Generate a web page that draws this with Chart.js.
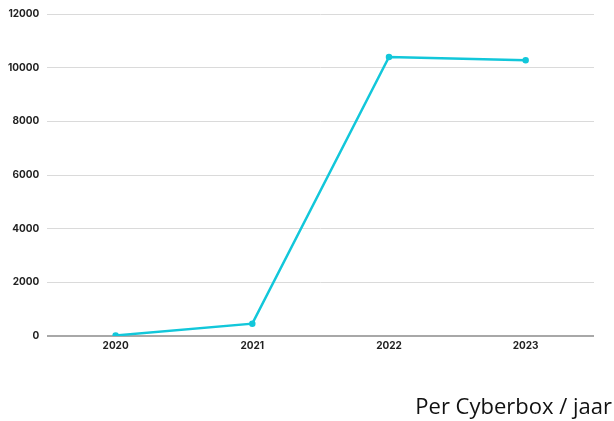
<!DOCTYPE html>
<html>
<head>
<meta charset="utf-8">
<script src="https://cdn.jsdelivr.net/npm/chart.js@4/dist/chart.umd.min.js"></script>
<style>
  html, body { margin: 0; padding: 0; background: #fff; }
  #wrap { position: relative; width: 614px; height: 421px; }
  #caption {
    position: absolute; right: 2px; top: 390px;
    font-family: 'Open Sans', sans-serif; font-size: 22px; color: #111;
    line-height: 30px; white-space: nowrap;
  }
</style>
</head>
<body>
<div id="wrap">
  <canvas id="cyberChart"></canvas>
  <div id="caption">Per Cyberbox / jaar</div>
</div>
<script>
const years = ['2020', '2021', '2022', '2023'];
const perBox = [20, 460, 10400, 10280];
const yTicks = [0, 2000, 4000, 6000, 8000, 10000, 12000];

const lineColor = '#12c7da';
const tickFont = { family: 'Inter', size: 10, weight: 'bold' };

const ctx = document.getElementById('cyberChart').getContext('2d');
const myChart = new Chart(ctx, {
    type: 'line',
    data: {
        labels: years,
        datasets: [{
            data: perBox,
            borderColor: lineColor,
            backgroundColor: lineColor,
            borderWidth: 2.5,
            pointRadius: 2,
            pointHoverRadius: 3,
            tension: 0
        }]
    },
    options: {
        responsive: true,
        maintainAspectRatio: false,
        animation: false,
        layout: { padding: { top: 7, right: 20, left: 0, bottom: 65 } },
        plugins: {
            legend: { display: false },
            tooltip: { enabled: false }
        },
        scales: {
            x: {
                offset: true,
                grid: { display: false, drawTicks: false },
                border: { display: false },
                ticks: { color: '#222', font: tickFont, padding: 4 }
            },
            y: {
                min: 0,
                max: 12000,
                afterBuildTicks: axis => { axis.ticks = yTicks.map(v => ({ value: v })); },
                border: { display: false },
                grid: {
                    drawTicks: false,
                    color: c => c.tick.value === 0 ? '#a8a8a8' : '#dadada',
                    lineWidth: c => c.tick.value === 0 ? 2 : 1
                },
                ticks: { color: '#222', font: tickFont, padding: 8, callback: v => String(v) }
            }
        }
    }
});
</script>
</body>
</html>
